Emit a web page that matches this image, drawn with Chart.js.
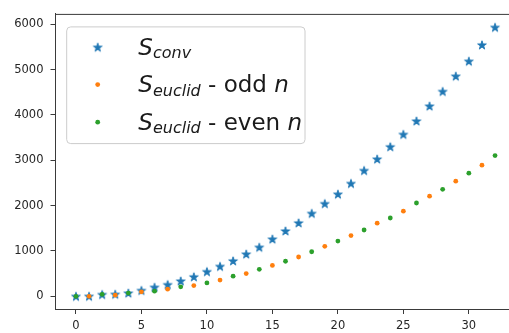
<!DOCTYPE html>
<html>
<head>
<meta charset="utf-8">
<script src="https://cdn.jsdelivr.net/npm/chart.js@4.4.1/dist/chart.umd.min.js"></script>
<style>
  html, body { margin: 0; padding: 0; background: #fff; overflow: hidden; }
  #wrap { width: 520px; height: 333px; }
</style>
</head>
<body>
<div id="wrap"><canvas id="c" width="520" height="333"></canvas></div>
<script>
// ---- data ----
const nConv = [0,1,2,3,4,5,6,7,8,9,10,11,12,13,14,15,16,17,18,19,20,21,22,23,24,25,26,27,28,29,30,31,32];
const sConv = [0,1,40,45,71,129,200,258,338,430,544,660,781,931,1082,1262,1441,1619,1828,2043,2252,2488,2774,3026,3297,3570,3865,4194,4516,4854,5183,5542,5929];
const nOdd = [1,3,5,7,9,11,13,15,17,19,21,23,25,27,29,31];
const sOdd = [1,25,100,157,237,359,501,682,867,1103,1340,1613,1877,2209,2538,2892];
const nEven = [0,2,4,6,8,10,12,14,16,18,20,22,24,26,28,30,32];
const sEven = [0,45,71,114,209,295,445,596,774,983,1219,1462,1727,2058,2359,2716,3103];
const xTicks = [0,5,10,15,20,25,30];
const yTicks = [0,1000,2000,3000,4000,5000,6000];
const seriesNames = ['S_conv', 'S_euclid - odd n', 'S_euclid - even n'];

const BLUE = '#1f77b4', ORANGE = '#ff7f0e', GREEN = '#2ca02c';
const FONT = '"DejaVu Sans", "Liberation Sans", sans-serif';

// filled 5-point star marker (matplotlib '*')
function makeStar(color) {
  const c = document.createElement('canvas');
  c.width = 12; c.height = 12;
  const g = c.getContext('2d');
  const R = 4.6, r = R * 0.381966, cx = 6, cy = 6.4;
  g.beginPath();
  for (let i = 0; i < 10; i++) {
    const rad = (i % 2 === 0) ? R : r;
    const a = -Math.PI / 2 + i * Math.PI / 5;
    const px = cx + rad * Math.cos(a), py = cy + rad * Math.sin(a);
    if (i === 0) g.moveTo(px, py); else g.lineTo(px, py);
  }
  g.closePath();
  g.fillStyle = color; g.fill();
  g.strokeStyle = color; g.lineWidth = 0.9; g.lineJoin = 'miter'; g.stroke();
  return c;
}
const starImg = makeStar(BLUE);

const toXY = (xs, ys) => xs.map((x, i) => ({ x: x, y: ys[i] }));

// legend label pieces (with subscripts)
const legendParts = [
  [{t:'S', it:true, sz:23, dy:0}, {t:'conv', it:true, sz:16, dy:3.5}],
  [{t:'S', it:true, sz:23, dy:0}, {t:'euclid', it:true, sz:16, dy:3.5}, {t:' - odd ', it:false, sz:23, dy:0}, {t:'n', it:true, sz:23, dy:0}],
  [{t:'S', it:true, sz:23, dy:0}, {t:'euclid', it:true, sz:16, dy:3.5}, {t:' - even ', it:false, sz:23, dy:0}, {t:'n', it:true, sz:23, dy:0}]
];

const framePlugin = {
  id: 'frame',
  afterDraw(chart) {
    const ctx = chart.ctx, a = chart.chartArea;
    ctx.save();
    // top spine
    ctx.strokeStyle = '#3a3a3a'; ctx.lineWidth = 1;
    ctx.beginPath(); ctx.moveTo(a.left, a.top + 0.5); ctx.lineTo(a.right, a.top + 0.5); ctx.stroke();

    // legend box
    const bx = a.left + 11.7, by = a.top + 13, bw = 238.3, bh = 116.7, rr = 4;
    ctx.beginPath();
    ctx.moveTo(bx + rr, by);
    ctx.lineTo(bx + bw - rr, by); ctx.quadraticCurveTo(bx + bw, by, bx + bw, by + rr);
    ctx.lineTo(bx + bw, by + bh - rr); ctx.quadraticCurveTo(bx + bw, by + bh, bx + bw - rr, by + bh);
    ctx.lineTo(bx + rr, by + bh); ctx.quadraticCurveTo(bx, by + bh, bx, by + bh - rr);
    ctx.lineTo(bx, by + rr); ctx.quadraticCurveTo(bx, by, bx + rr, by);
    ctx.closePath();
    ctx.fillStyle = 'rgba(255,255,255,0.8)'; ctx.fill();
    ctx.strokeStyle = '#cccccc'; ctx.lineWidth = 1; ctx.stroke();

    const mx = bx + 31, rowY = [by + 20.3, by + 57.7, by + 95.3];
    const colors = [BLUE, ORANGE, GREEN];
    for (let k = 0; k < 3; k++) {
      const cy = rowY[k];
      if (k === 0) {
        ctx.drawImage(starImg, mx - 6, cy - 6);
      } else {
        ctx.beginPath(); ctx.arc(mx, cy, 2.4, 0, Math.PI * 2);
        ctx.fillStyle = colors[k]; ctx.fill();
      }
      let x = bx + 71.6;
      const base = cy + 7.4;
      ctx.fillStyle = '#1a1a1a';
      ctx.textBaseline = 'alphabetic'; ctx.textAlign = 'left';
      for (const p of legendParts[k]) {
        ctx.font = (p.it ? 'italic ' : '') + p.sz + 'px ' + FONT;
        ctx.fillText(p.t, x, base + p.dy);
        x += ctx.measureText(p.t).width;
      }
    }
    ctx.restore();
  }
};

const tickFont = { family: FONT, size: 11.5 };

new Chart(document.getElementById('c'), {
  type: 'scatter',
  data: {
    datasets: [
      { label: seriesNames[0], data: toXY(nConv, sConv), pointStyle: starImg, order: 2,
        backgroundColor: BLUE, borderColor: BLUE },
      { label: seriesNames[1], data: toXY(nOdd, sOdd), pointStyle: 'circle', pointRadius: 2.4, borderWidth: 0, order: 1,
        backgroundColor: ORANGE, borderColor: ORANGE },
      { label: seriesNames[2], data: toXY(nEven, sEven), pointStyle: 'circle', pointRadius: 2.4, borderWidth: 0, order: 0,
        backgroundColor: GREEN, borderColor: GREEN }
    ]
  },
  options: {
    responsive: false,
    animation: false,
    devicePixelRatio: 1,
    layout: { padding: { top: 6.5, right: 1, left: 0, bottom: 0 } },
    plugins: { legend: { display: false }, tooltip: { enabled: false } },
    elements: { point: { hoverRadius: 2.4 } },
    scales: {
      x: {
        type: 'linear', min: -1.6, max: 33.6,
        afterBuildTicks: s => { s.ticks = xTicks.map(v => ({ value: v })); },
        afterFit: s => { s.height = 23.5; },
        grid: { display: true, drawOnChartArea: false, drawTicks: true, tickLength: 4.5, color: '#3a3a3a', lineWidth: 1 },
        border: { display: true, color: '#3a3a3a', width: 1 },
        ticks: { font: tickFont, color: '#262626', padding: 5, maxRotation: 0, autoSkip: false,
                 callback: v => String(v) }
      },
      y: {
        type: 'linear', min: -290, max: 6226,
        afterBuildTicks: s => { s.ticks = yTicks.map(v => ({ value: v })); },
        afterFit: s => { s.width = 55; },
        grid: { display: true, drawOnChartArea: false, drawTicks: true, tickLength: 4.5, color: '#3a3a3a', lineWidth: 1 },
        border: { display: true, color: '#3a3a3a', width: 1 },
        ticks: { font: tickFont, color: '#262626', padding: 7, autoSkip: false,
                 callback: v => String(v) }
      }
    }
  },
  plugins: [framePlugin]
});
</script>
</body>
</html>
